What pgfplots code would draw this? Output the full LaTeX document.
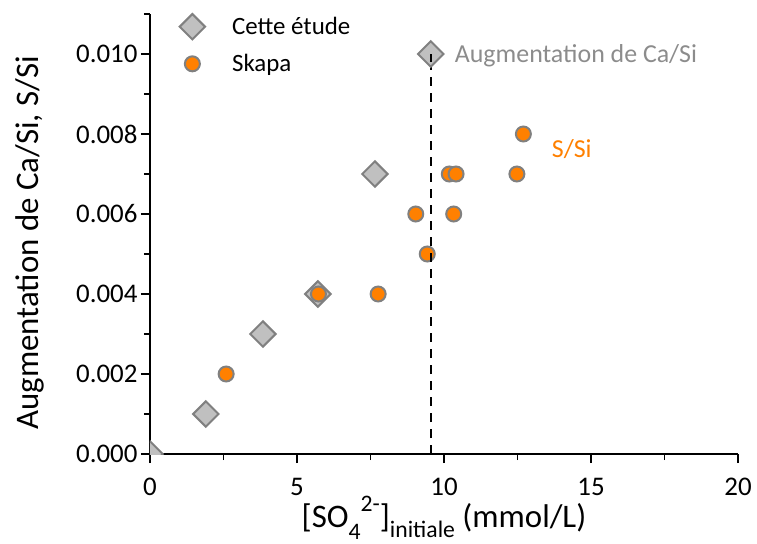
\documentclass[border=0pt]{standalone}
\usepackage{pgfplots}
\pgfplotsset{compat=1.18}
\usepackage{fontspec}
\setmainfont{Carlito}
\definecolor{orng}{HTML}{FF8000}
\definecolor{edgegray}{HTML}{808080}
\definecolor{dfill}{HTML}{C0C0C0}
\definecolor{annot}{HTML}{8C8C8C}
\newcommand{\sml}[1]{\scalebox{0.72}{#1}}
\begin{document}
\begin{tikzpicture}
\begin{axis}[
  at={(0,0)}, anchor=south west,
  scale only axis,
  width=588bp, height=440bp,
  xmin=0, xmax=20, ymin=0, ymax=0.011,
  axis x line*=bottom, axis y line*=left,
  axis line style={black, line width=1.3pt},
  xtick={0,5,10,15,20},
  minor xtick={2.5,7.5,12.5,17.5},
  ytick={0,0.002,0.004,0.006,0.008,0.010},
  minor ytick={0.001,0.003,0.005,0.007,0.009,0.011},
  tick align=outside,
  major tick length=9bp, minor tick length=6bp,
  tick style={black, line width=1.3pt},
  scaled y ticks=false,
  yticklabel style={/pgf/number format/.cd, fixed, fixed zerofill, precision=3, assume math mode=true},
  xticklabel style={/pgf/number format/assume math mode=true, yshift=-12bp},
  ticklabel style={font=\fontsize{27}{33}\selectfont},
  xlabel style={font=\fontsize{33}{38}\selectfont, at={(axis description cs:0.5,0)}, anchor=center, yshift=-64bp},
  ylabel style={font=\fontsize{33}{38}\selectfont, at={(axis description cs:0,0.48)}, anchor=center, yshift=120bp},
  xlabel={[SO\raisebox{-0.36em}{\sml{4}}\raisebox{0.48em}{\sml{2-}}]\raisebox{-0.3em}{\sml{initiale}} (mmol/L)},
  ylabel={Augmentation de Ca/Si, S/Si},
  legend style={draw=none, fill=none, at={(axis description cs:0.045,1.005)}, anchor=north west,
    font=\fontsize{25}{29}\selectfont, row sep=13bp},
  legend cell align=left,
  clip=true, clip marker paths=true,
]
\addplot[only marks, mark=square*, mark size=9bp,
  mark options={rotate=45, fill=dfill, draw=edgegray, line width=2pt}]
  coordinates {(0,0) (1.90,0.001) (3.84,0.003) (5.71,0.004) (7.65,0.007)};
\addlegendentry{\hspace*{25bp}Cette étude}
\addplot[only marks, mark=*, mark size=7.5bp,
  mark options={fill=orng, draw=edgegray, line width=2pt}]
  coordinates {(2.59,0.002) (5.73,0.004) (7.76,0.004) (9.04,0.006) (9.43,0.005)
   (10.18,0.007) (10.41,0.007) (10.33,0.006) (12.48,0.007) (12.70,0.008)};
\addlegendentry{\hspace*{25bp}Skapa}
\addplot[black, line width=1.8pt, dash pattern=on 9bp off 7bp, forget plot]
  coordinates {(9.55,0) (9.55,0.010)};
\addplot[only marks, mark=square*, mark size=9bp, forget plot,
  mark options={rotate=45, fill=dfill, draw=edgegray, line width=2pt}]
  coordinates {(9.55,0.010)};
\addplot[black, line width=1.8pt, forget plot]
  coordinates {(9.55,0.0098) (9.55,0.0100)};
\node[anchor=west, text=annot, font=\fontsize{26}{30}\selectfont] at (axis cs:10.25,0.00995) {Augmentation de Ca/Si};
\node[anchor=west, text=orng, font=\fontsize{26}{30}\selectfont] at (axis cs:13.55,0.00763) {S/Si};
\end{axis}
\pgfresetboundingbox
\path[use as bounding box] (-150bp,-90bp) rectangle (607bp,454bp);
\end{tikzpicture}
\end{document}
